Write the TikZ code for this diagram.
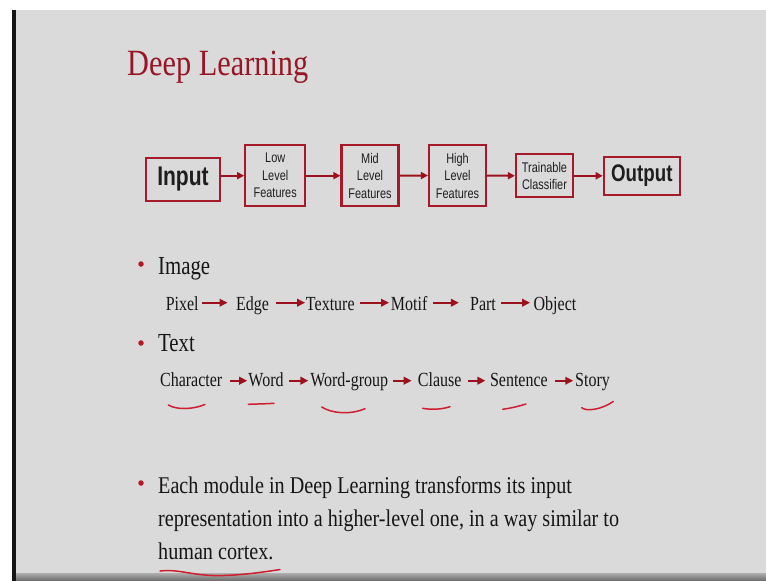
\documentclass[tikz,border=0pt]{standalone}
\usepackage{fontspec}
\setmainfont{Liberation Serif}
\newfontfamily\titleserif[FakeStretch=0.82]{Liberation Serif}
\newfontfamily\bodyserif[FakeStretch=0.84]{Liberation Serif}
\newfontfamily\rowserif[FakeStretch=0.80]{Liberation Serif}
\newfontfamily\boxsans[FakeStretch=0.78]{Liberation Sans}
\usetikzlibrary{arrows.meta}

\definecolor{slidebg}{RGB}{218,218,218}
\definecolor{titlered}{RGB}{150,22,38}
\definecolor{boxred}{RGB}{165,25,40}
\definecolor{arrowred}{RGB}{155,18,30}
\definecolor{bulletred}{RGB}{185,20,35}
\definecolor{penred}{RGB}{205,30,50}
\definecolor{bodytext}{RGB}{22,22,22}
\definecolor{boxtext}{RGB}{30,30,30}
\definecolor{bartop}{RGB}{175,175,175}
\definecolor{barbottom}{RGB}{105,105,105}

\tikzset{
  boxnode/.style={draw=boxred, line width=2.2pt, fill=slidebg, inner sep=0pt,
    align=center, text=boxtext, font=\boxsans\fontsize{14}{17.5}\selectfont},
  flowarrow/.style={draw=arrowred, line width=2pt,
    -{Triangle[length=7pt,width=7pt]}},
  word/.style={inner sep=0pt, anchor=base, text=bodytext,
    font=\rowserif\fontsize{20}{24}\selectfont},
  heading/.style={inner sep=0pt, anchor=base west, text=bodytext,
    font=\rowserif\fontsize{26}{30}\selectfont},
  bodyline/.style={inner sep=0pt, anchor=base west, text=bodytext,
    font=\bodyserif\fontsize{24}{33}\selectfont},
  rowarrow/.style={draw=arrowred, line width=2.2pt,
    -{Triangle[length=8pt,width=7.5pt]}},
  bulletdot/.style={circle, fill=bulletred, inner sep=0pt, minimum size=5.5pt},
  pen/.style={draw=penred, line width=1.5pt, line cap=round},
}

\begin{document}
\begin{tikzpicture}[x=1pt,y=-1pt]
\useasboundingbox (0,0) rectangle (766,581);

% page, slide area and frame
\fill[white] (0,0) rectangle (766,581);
\fill[slidebg] (16,10) rectangle (766,573);
\fill[black!92] (12,10) rectangle (16,581);
\shade[top color=bartop, bottom color=barbottom] (16,573) rectangle (766,581);

% title
\node[inner sep=0pt, anchor=base west, text=titlered,
      font=\titleserif\fontsize{37}{40}\selectfont] (title) at (127,75) {Deep Learning};

% feature pipeline
\node[boxnode, minimum width=74, minimum height=43,
      font=\boxsans\bfseries\fontsize{27}{30}\selectfont] (in) at (183,179.5) {Input};
\node[boxnode, minimum width=60, minimum height=61] (low) at (275.2,175.7) {Low\\Level\\Features};
\node[boxnode, minimum width=57, minimum height=61] (mid) at (370,175.7) {Mid\\Level\\Features};
\node[boxnode, minimum width=57, minimum height=61] (high) at (457.5,175.5) {High\\Level\\Features};
\node[boxnode, minimum width=57, minimum height=43] (clf) at (544.5,175.8) {Trainable\\Classifier};
\node[boxnode, minimum width=76, minimum height=38,
      font=\boxsans\bfseries\fontsize{24}{28}\selectfont] (out) at (641.8,175.9) {Output};

\draw[flowarrow] (in.east |- low.west) -- (low.west);
\draw[flowarrow] (low.east) -- (mid.west);
\draw[flowarrow] (mid.east) -- (high.west);
\draw[flowarrow] (high.east) -- (clf.west);
\draw[flowarrow] (clf.east) -- (out.west |- clf.east);

% image hierarchy
\node[bulletdot] (b1) at (141,264) {};
\node[heading] (image) at (158,274) {Image};
\node[word] (pixel) at (182.2,310) {Pixel};
\node[word] (edge) at (252.5,310) {Edge};
\node[word] (texture) at (330.3,310) {Texture};
\node[word] (motif) at (409.2,310) {Motif};
\node[word] (part) at (483,310) {Part};
\node[word] (object) at (555,310) {Object};

\draw[rowarrow, shorten <=3.4pt, shorten >=8.3pt] ([yshift=7.3pt]pixel.base east) -- ([yshift=7.3pt]edge.base west);
\draw[rowarrow, shorten <=6.7pt, shorten >=0.7pt] ([yshift=7.3pt]edge.base east) -- ([yshift=7.3pt]texture.base west);
\draw[rowarrow, shorten <=5pt, shorten >=1.7pt] ([yshift=7.3pt]texture.base east) -- ([yshift=7.3pt]motif.base west);
\draw[rowarrow, shorten <=5pt, shorten >=11pt] ([yshift=7.3pt]motif.base east) -- ([yshift=7.3pt]part.base west);
\draw[rowarrow, shorten <=5pt, shorten >=3.4pt] ([yshift=7.3pt]part.base east) -- ([yshift=7.3pt]object.base west);

% text hierarchy
\node[bulletdot] (b2) at (141,343) {};
\node[heading] (text) at (158,351.7) {Text};
\node[word] (character) at (191.2,386.7) {Character};
\node[word] (wordnode) at (266,386.7) {Word};
\node[word] (wordgroup) at (349.2,386.7) {Word-group};
\node[word] (clause) at (439.7,386.7) {Clause};
\node[word] (sentence) at (518.9,386.7) {Sentence};
\node[word] (story) at (592.5,386.7) {Story};

\draw[rowarrow, shorten <=7.6pt, shorten >=1pt] ([yshift=6pt]character.base east) -- ([yshift=6pt]wordnode.base west);
\draw[rowarrow, shorten <=5.6pt, shorten >=1.7pt] ([yshift=6pt]wordnode.base east) -- ([yshift=6pt]wordgroup.base west);
\draw[rowarrow, shorten <=5pt, shorten >=6pt] ([yshift=6pt]wordgroup.base east) -- ([yshift=6pt]clause.base west);
\draw[rowarrow, shorten <=6.7pt, shorten >=4.4pt] ([yshift=6pt]clause.base east) -- ([yshift=6pt]sentence.base west);
\draw[rowarrow, shorten <=7.3pt, shorten >=1.7pt] ([yshift=6pt]sentence.base east) -- ([yshift=6pt]story.base west);

% handwritten underlines
\draw[pen] (168.3,405) .. controls (178,410.5) and (194,409) .. (205,404.5);
\draw[pen] (248.3,404.3) .. controls (258,404) and (266,403.8) .. (274,403.3);
\draw[pen] (321.7,407) .. controls (332,413.5) and (350,415) .. (365,408.7);
\draw[pen] (422.7,408.3) .. controls (432,410) and (442,409.3) .. (450,406.7);
\draw[pen] (502.7,409.3) .. controls (510,408.3) and (518,406.5) .. (526,404);
\draw[pen] (581.7,407.7) .. controls (586,411.5) and (601,410) .. (613.3,401.5);

% closing remark
\node[bulletdot] (b3) at (141,483) {};
\node[bodyline] (line1) at (158,493) {Each module in Deep Learning transforms its input};
\node[bodyline] (line2) at (158,526) {representation into a higher-level one, in a way similar to};
\node[bodyline] (line3) at (158,559) {human cortex.};
\draw[pen] (160,571) .. controls (175,569) and (190,574) .. (205,575)
           .. controls (225,577) and (255,573.5) .. (280,569.5);
\end{tikzpicture}
\end{document}
